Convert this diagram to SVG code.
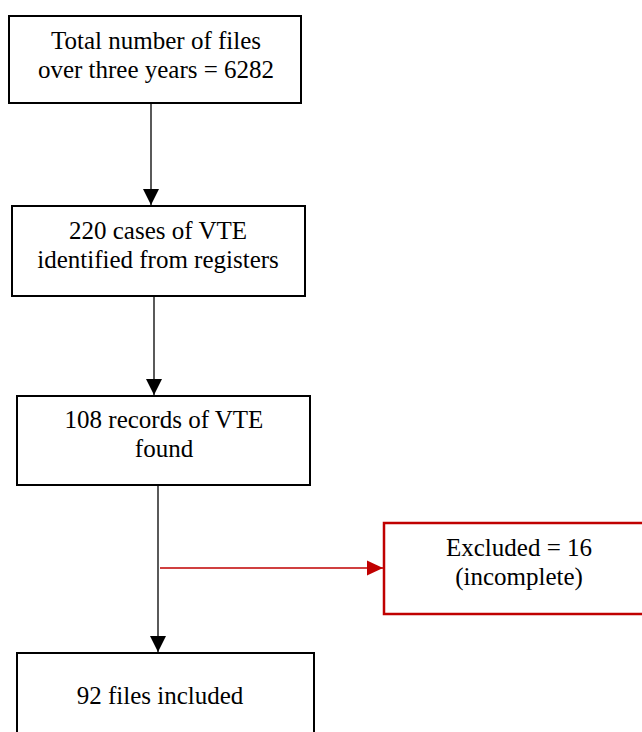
<svg xmlns="http://www.w3.org/2000/svg" width="642" height="732" viewBox="0 0 642 732">
<defs>
<style>
.box{fill:#fff;stroke:#000;stroke-width:2}
.rbox{fill:#fff;stroke:#c00000;stroke-width:2.5}
.t{font-family:"Liberation Serif","Times New Roman",serif;font-size:25px;fill:#000;text-anchor:middle}
.ln{stroke:#000;stroke-width:1.3;fill:none}
.rln{stroke:#c00000;stroke-width:1.5;fill:none}
</style>
<marker id="ah" markerUnits="userSpaceOnUse" markerWidth="16" markerHeight="16" viewBox="0 0 14 14" refX="14" refY="7" orient="auto">
<path d="M0,0 L14,7 L0,14 Z" fill="#000"/>
</marker>
<marker id="rah" markerUnits="userSpaceOnUse" markerWidth="16" markerHeight="16" viewBox="0 0 14 14" refX="14" refY="7" orient="auto">
<path d="M0,0.5 L14,7 L0,13.5 Z" fill="#c00000"/>
</marker>
</defs>
<rect width="642" height="732" fill="#fff"/>
<g id="connectors">
<line class="ln" x1="151" y1="103" x2="151" y2="205" marker-end="url(#ah)"/>
<line class="ln" x1="154" y1="297" x2="154" y2="395" marker-end="url(#ah)"/>
<line class="ln" x1="158" y1="486" x2="158" y2="652" marker-end="url(#ah)"/>
<line class="rln" x1="160" y1="568" x2="383" y2="568" marker-end="url(#rah)"/>
</g>
<g id="n1">
<rect class="box" x="9" y="16" width="292" height="87"/>
<text class="t" x="156" y="49">Total number of files</text>
<text class="t" x="156" y="78">over three years = 6282</text>
</g>
<g id="n2">
<rect class="box" x="12" y="206" width="293" height="90"/>
<text class="t" x="158" y="239">220 cases of VTE</text>
<text class="t" x="158" y="268">identified from registers</text>
</g>
<g id="n3">
<rect class="box" x="17" y="396" width="293" height="89"/>
<text class="t" x="164" y="428">108 records of VTE</text>
<text class="t" x="164" y="457">found</text>
</g>
<g id="n4">
<rect class="rbox" x="384" y="523" width="270" height="91"/>
<text class="t" x="519" y="556">Excluded = 16</text>
<text class="t" x="519" y="585">(incomplete)</text>
</g>
<g id="n5">
<rect class="box" x="17" y="653" width="297" height="90"/>
<text class="t" x="160" y="704">92 files included</text>
</g>
</svg>
